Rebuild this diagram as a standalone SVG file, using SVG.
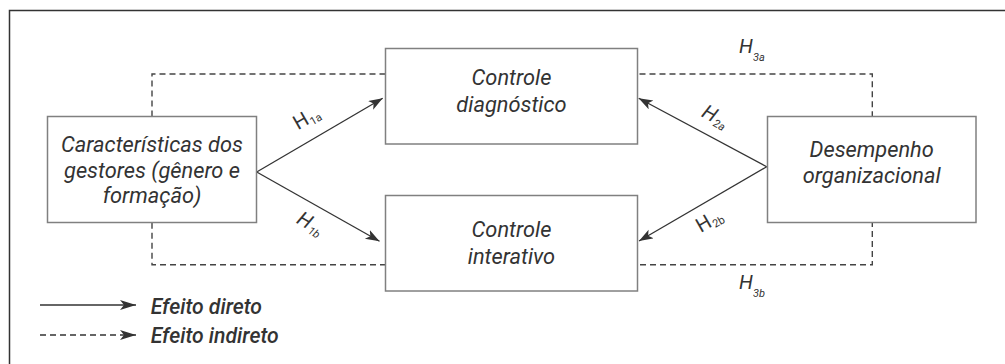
<svg xmlns="http://www.w3.org/2000/svg" width="1005" height="364" viewBox="0 0 1005 364">
<style>
.frame{fill:none;stroke:#333;stroke-width:1.5}
.box{fill:#fff;stroke:#808080;stroke-width:1.5}
.dash{fill:none;stroke:#444;stroke-width:1.4;stroke-dasharray:6 4}
.arr{fill:none;stroke:#333;stroke-width:1.3;marker-end:url(#ah)}
.la{fill:none;stroke:#333;stroke-width:1.4;marker-end:url(#ah2)}
.t{font-family:Roboto,"Liberation Sans",sans-serif;font-style:italic;font-size:21.8px;fill:#333;text-anchor:middle}
.h{font-family:Roboto,"Liberation Sans",sans-serif;font-size:20px;fill:#333}
.s{font-family:Roboto,"Liberation Sans",sans-serif;font-size:11px;fill:#333}
.i{font-style:italic}
.lg{font-family:Roboto,"Liberation Sans",sans-serif;font-style:italic;font-weight:500;font-size:21.2px;fill:#333}
</style>
<defs>
<marker id="ah" markerUnits="userSpaceOnUse" markerWidth="16" markerHeight="12" refX="14" refY="5" orient="auto">
<path d="M0,0 L14,5 L0,10 L3.5,5 z" fill="#333"/>
</marker>
<marker id="ah2" markerUnits="userSpaceOnUse" markerWidth="18" markerHeight="12" refX="16" refY="5" orient="auto">
<path d="M0,0 L16,5 L0,10 L4,5 z" fill="#333"/>
</marker>
</defs>
<path class="frame" d="M1005,10.5 H9.5 V364"/>
<g id="connectors">
<path class="dash" d="M152,116.5 V74 H872.3 V116.5"/>
<path class="dash" d="M152,222.7 V264.7 H872.3 V222.7"/>
<line class="arr" x1="256.7" y1="172" x2="382.7" y2="98.3"/>
<line class="arr" x1="256.7" y1="172" x2="379.5" y2="241.3"/>
<line class="arr" x1="766.7" y1="166.7" x2="638.7" y2="98.3"/>
<line class="arr" x1="766.7" y1="166.7" x2="639" y2="241"/>
<g transform="translate(298,130.3) rotate(-30)"><text class="h" x="0" y="0">H</text><text class="s" x="15" y="3">1a</text></g>
<g transform="translate(295.4,222.6) rotate(30)"><text class="h i" x="0" y="0">H</text><text class="s i" x="15" y="3">1b</text></g>
<g transform="translate(700.4,115.9) rotate(28)"><text class="h i" x="0" y="0">H</text><text class="s i" x="15" y="3">2a</text></g>
<g transform="translate(700.7,232.9) rotate(-30)"><text class="h" x="0" y="0">H</text><text class="s" x="15" y="3">2b</text></g>
<text class="h i" x="739" y="53.3">H</text><text class="s i" x="753" y="61">3a</text>
<text class="h i" x="739" y="289.3">H</text><text class="s i" x="753" y="297">3b</text>
</g>
<g id="n_gestores">
<rect class="box" x="47.5" y="116.5" width="209" height="106"/>
<text class="t" x="152" y="152">Características dos</text>
<text class="t" x="152" y="177.5">gestores (gênero e</text>
<text class="t" x="152" y="203">formação)</text>
</g>
<g id="n_diagnostico">
<rect class="box" x="385.5" y="48.5" width="252" height="95.5"/>
<text class="t" x="511.5" y="85.3">Controle</text>
<text class="t" x="511.5" y="112">diagnóstico</text>
</g>
<g id="n_interativo">
<rect class="box" x="385.5" y="195.5" width="252" height="95.5"/>
<text class="t" x="511.5" y="237">Controle</text>
<text class="t" x="511.5" y="264">interativo</text>
</g>
<g id="n_desempenho">
<rect class="box" x="767.5" y="116.5" width="208.5" height="106"/>
<text class="t" x="871.7" y="157">Desempenho</text>
<text class="t" x="871.7" y="183">organizacional</text>
</g>
<g id="legend">
<line class="la" x1="40" y1="305" x2="136" y2="305"/>
<line class="la" x1="40" y1="335" x2="136" y2="335" stroke-dasharray="6 4"/>
<text class="lg" x="150.7" y="314">Efeito direto</text>
<text class="lg" x="150.7" y="342.5">Efeito indireto</text>
</g>
</svg>
